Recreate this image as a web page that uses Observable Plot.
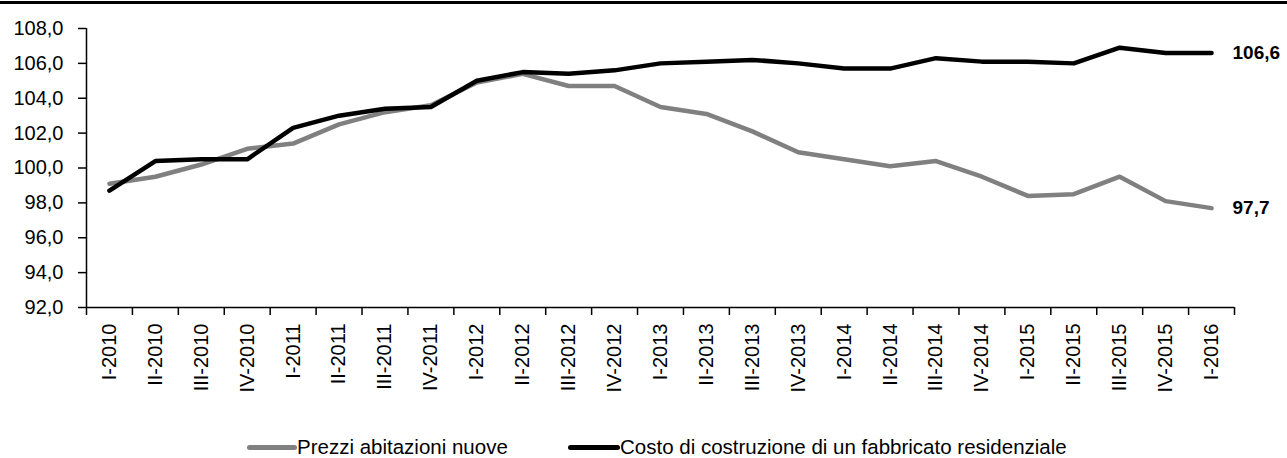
<!DOCTYPE html>
<html>
<head>
<meta charset="utf-8">
<script src="https://cdn.jsdelivr.net/npm/d3@7"></script>
<script src="https://cdn.jsdelivr.net/npm/@observablehq/plot@0.6"></script>
<style>
  html, body { margin: 0; padding: 0; background: #fff; }
  body { width: 1287px; height: 458px; position: relative; overflow: hidden; font-family: "Liberation Sans", Arial, sans-serif; }
  #topline { position: absolute; left: 0; top: 1px; width: 1287px; height: 3px; background: #000; }
  #chart { position: absolute; left: 0; top: 0; }
  .leg { position: absolute; top: 435px; display: flex; align-items: center; font-size: 20.5px; line-height: 24px; color: #000; white-space: nowrap; }
  .sw { height: 5px; border-radius: 3px; }
</style>
</head>
<body>
<div id="topline"></div>
<div id="chart"></div>
<div class="leg" style="left:247px"><span class="sw" style="width:50px;background:#808080"></span><span>Prezzi abitazioni nuove</span></div>
<div class="leg" style="left:568px"><span class="sw" style="width:52px;background:#000"></span><span>Costo di costruzione di un fabbricato residenziale</span></div>
<script>
const categories = ["I-2010","II-2010","III-2010","IV-2010","I-2011","II-2011","III-2011","IV-2011","I-2012","II-2012","III-2012","IV-2012","I-2013","II-2013","III-2013","IV-2013","I-2014","II-2014","III-2014","IV-2014","I-2015","II-2015","III-2015","IV-2015","I-2016"];
const prezzi = [99.1,99.5,100.2,101.1,101.4,102.5,103.2,103.6,104.9,105.4,104.7,104.7,103.5,103.1,102.1,100.9,100.5,100.1,100.4,99.5,98.4,98.5,99.5,98.1,97.7];
const costo = [98.7,100.4,100.5,100.5,102.3,103.0,103.4,103.5,105.0,105.5,105.4,105.6,106.0,106.1,106.2,106.0,105.7,105.7,106.3,106.1,106.1,106.0,106.9,106.6,106.6];
const seriesNames = ["Prezzi abitazioni nuove","Costo di costruzione di un fabbricato residenziale"];
const yTicks = [92,94,96,98,100,102,104,106,108];

const rows = [];
categories.forEach((c, i) => {
  rows.push({i: i + 0.5, cat: c, value: prezzi[i], series: seriesNames[0]});
  rows.push({i: i + 0.5, cat: c, value: costo[i], series: seriesNames[1]});
});
const lastRows = rows.slice(-2);
const fmt = v => v.toFixed(1).replace(".", ",");

const chart = Plot.plot({
  width: 1287,
  height: 400,
  marginTop: 28,
  marginLeft: 86,
  marginRight: 53,
  marginBottom: 93,
  style: {fontFamily: "Liberation Sans, Arial, sans-serif", fontSize: "20px", color: "#000", background: "transparent"},
  x: {type: "linear", domain: [0, categories.length]},
  y: {domain: [92, 108]},
  color: {domain: seriesNames, range: ["#808080", "#000000"]},
  marks: [
    Plot.axisY({ticks: yTicks, tickFormat: fmt, tickSize: 8, tickPadding: 15, label: null, fontSize: 20, stroke: "#000", strokeWidth: 1.5, strokeOpacity: 1}),
    Plot.axisX({ticks: d3.range(categories.length + 1), tickFormat: () => "", tickSize: 8, label: null, stroke: "#000", strokeWidth: 1.5, strokeOpacity: 1}),
    Plot.axisX({ticks: categories.map((c, i) => i + 0.5), tickFormat: d => categories[Math.round(d - 0.5)], tickSize: 0, tickPadding: 16, tickRotate: -90, fontSize: 20, label: null}),
    Plot.ruleY([92], {stroke: "#000", strokeWidth: 1.5}),
    Plot.ruleX([0], {stroke: "#000", strokeWidth: 1.5}),
    Plot.line(rows, {x: "i", y: "value", z: "series", stroke: "series", strokeWidth: 4.5, strokeLinejoin: "round", strokeLinecap: "round"}),
    Plot.text(lastRows, {x: "i", y: "value", text: d => fmt(d.value), dx: 21, textAnchor: "start", fontWeight: "bold", fontSize: 19, fill: "#000"})
  ]
});
document.getElementById("chart").appendChild(chart);
</script>
</body>
</html>
